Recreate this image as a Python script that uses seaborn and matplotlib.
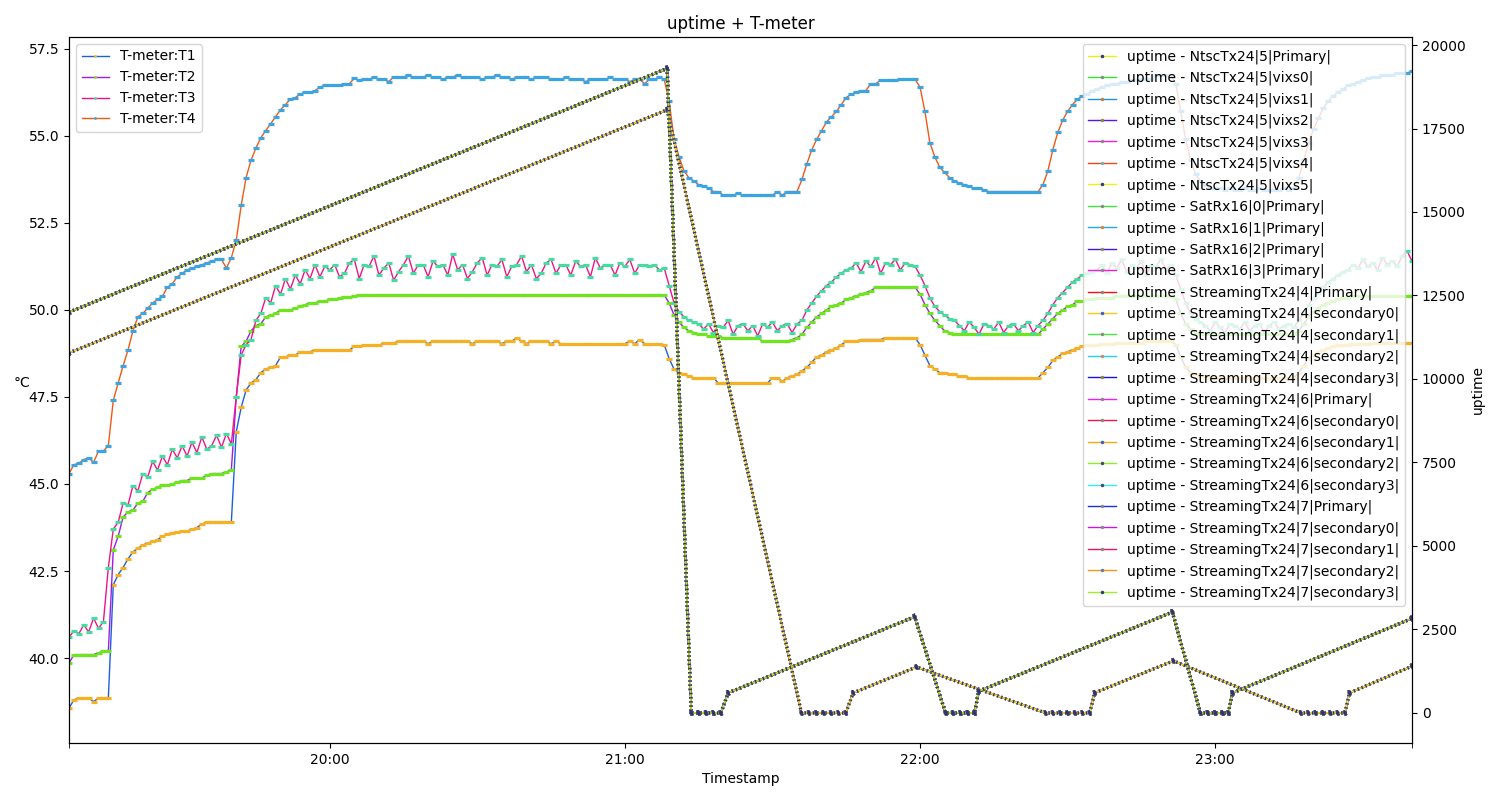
import numpy as np
import pandas as pd
import matplotlib
matplotlib.use("Agg")
import matplotlib.pyplot as plt
import matplotlib.dates as mdates
import matplotlib.patheffects as pe
import seaborn as sns

# ---------------- data ----------------
BASE = pd.Timestamp("2024-01-01 19:00")
FIRST_MINUTE = 7          # first temperature sample 19:07, one sample per minute
LAST_MINUTE = 280

# T-meter temperatures (deg C), one reading per minute from 19:07
T1 = [38.56, 38.80, 38.85, 38.85, 38.85, 38.75, 38.85, 38.85, 38.85, 42.10,
      42.40, 42.60, 42.85, 43.05, 43.15, 43.25, 43.30, 43.35, 43.40, 43.50,
      43.55, 43.60, 43.62, 43.65, 43.65, 43.70, 43.75, 43.85, 43.90, 43.90,
      43.90, 43.90, 43.90, 43.90, 46.50, 47.20, 47.70, 47.90, 48.00, 48.20,
      48.30, 48.35, 48.40, 48.65, 48.65, 48.70, 48.70, 48.80, 48.80, 48.80,
      48.85, 48.85, 48.85, 48.85, 48.85, 48.85, 48.85, 48.85, 48.95, 48.95,
      48.98, 48.98, 48.98, 48.98, 49.05, 49.05, 49.05, 49.10, 49.10, 49.10,
      49.10, 49.10, 49.10, 49.03, 49.10, 49.10, 49.10, 49.10, 49.10, 49.10,
      49.10, 49.10, 49.03, 49.10, 49.10, 49.10, 49.10, 49.10, 49.03, 49.10,
      49.10, 49.20, 49.10, 49.03, 49.10, 49.10, 49.10, 49.10, 49.03, 49.10,
      49.03, 49.03, 49.03, 49.03, 49.03, 49.03, 49.03, 49.03, 49.03, 49.03,
      49.03, 49.03, 49.03, 49.03, 49.10, 49.03, 49.15, 49.03, 49.03, 49.03,
      49.03, 49.00, 48.60, 48.30, 48.20, 48.15, 48.10, 48.05, 48.05, 48.05,
      48.05, 48.05, 47.90, 47.90, 47.90, 47.90, 47.90, 47.90, 47.90, 47.90,
      47.90, 47.90, 47.90, 48.05, 48.05, 47.95, 48.05, 48.10, 48.15, 48.25,
      48.35, 48.50, 48.65, 48.70, 48.80, 48.85, 48.90, 49.00, 49.10, 49.10,
      49.10, 49.15, 49.15, 49.15, 49.15, 49.15, 49.20, 49.20, 49.20, 49.20,
      49.20, 49.20, 49.20, 49.00, 48.70, 48.40, 48.30, 48.20, 48.20, 48.15,
      48.15, 48.10, 48.10, 48.05, 48.05, 48.05, 48.05, 48.05, 48.05, 48.05,
      48.05, 48.05, 48.05, 48.05, 48.05, 48.05, 48.05, 48.05, 48.20, 48.35,
      48.55, 48.65, 48.75, 48.80, 48.85, 48.90, 48.95, 49.00, 49.00, 49.00,
      49.03, 49.03, 49.03, 49.05, 49.05, 49.05, 49.05, 49.05, 49.05, 49.10,
      49.10, 49.10, 49.10, 49.10, 49.10, 49.00, 48.65, 48.35, 48.20, 48.15,
      48.10, 48.10, 48.05, 48.05, 48.05, 48.05, 48.05, 48.05, 48.05, 48.05,
      48.05, 48.05, 48.05, 48.05, 48.05, 48.05, 48.05, 48.05, 48.05, 48.05,
      48.20, 48.40, 48.60, 48.70, 48.80, 48.85, 48.90, 48.95, 49.00, 49.00,
      49.00, 49.03, 49.03, 49.03, 49.03, 49.05, 49.05, 49.05, 49.05, 49.05,
      49.05, 49.05, 49.05, 49.05]

T2 = [39.85, 40.10, 40.10, 40.10, 40.10, 40.10, 40.15, 40.20, 40.20, 43.10,
      43.50, 44.05, 44.20, 44.25, 44.45, 44.50, 44.75, 44.85, 44.90, 44.97,
      44.97, 45.00, 45.05, 45.10, 45.10, 45.17, 45.17, 45.17, 45.25, 45.30,
      45.30, 45.30, 45.35, 45.40, 47.50, 48.95, 49.10, 49.40, 49.55, 49.60,
      49.80, 49.85, 49.90, 50.00, 50.00, 50.00, 50.05, 50.10, 50.15, 50.20,
      50.20, 50.25, 50.25, 50.30, 50.30, 50.35, 50.37, 50.37, 50.40, 50.43,
      50.43, 50.43, 50.43, 50.43, 50.43, 50.43, 50.43, 50.43, 50.43, 50.43,
      50.43, 50.43, 50.43, 50.43, 50.43, 50.43, 50.43, 50.43, 50.43, 50.43,
      50.43, 50.43, 50.43, 50.43, 50.43, 50.43, 50.43, 50.43, 50.43, 50.43,
      50.43, 50.43, 50.43, 50.43, 50.43, 50.43, 50.43, 50.43, 50.43, 50.43,
      50.43, 50.43, 50.43, 50.43, 50.43, 50.43, 50.43, 50.43, 50.43, 50.43,
      50.43, 50.43, 50.43, 50.43, 50.43, 50.43, 50.43, 50.43, 50.43, 50.43,
      50.43, 50.43, 50.20, 49.85, 49.65, 49.50, 49.40, 49.35, 49.30, 49.30,
      49.25, 49.25, 49.25, 49.20, 49.20, 49.20, 49.20, 49.20, 49.20, 49.20,
      49.20, 49.10, 49.10, 49.10, 49.10, 49.10, 49.10, 49.15, 49.20, 49.30,
      49.50, 49.65, 49.80, 49.90, 50.00, 50.10, 50.15, 50.20, 50.30, 50.35,
      50.40, 50.45, 50.50, 50.55, 50.65, 50.65, 50.65, 50.65, 50.65, 50.65,
      50.65, 50.65, 50.65, 50.45, 50.15, 49.90, 49.70, 49.55, 49.40, 49.35,
      49.30, 49.30, 49.30, 49.30, 49.30, 49.30, 49.30, 49.30, 49.30, 49.30,
      49.30, 49.30, 49.30, 49.30, 49.30, 49.30, 49.30, 49.30, 49.45, 49.60,
      49.75, 49.90, 50.00, 50.10, 50.15, 50.25, 50.25, 50.30, 50.30, 50.35,
      50.35, 50.35, 50.35, 50.40, 50.40, 50.40, 50.40, 50.40, 50.40, 50.40,
      50.40, 50.40, 50.40, 50.40, 50.40, 50.30, 49.90, 49.60, 49.45, 49.35,
      49.30, 49.30, 49.30, 49.30, 49.30, 49.30, 49.30, 49.30, 49.30, 49.30,
      49.30, 49.30, 49.30, 49.30, 49.30, 49.30, 49.30, 49.30, 49.30, 49.30,
      49.40, 49.60, 49.80, 49.95, 50.05, 50.15, 50.20, 50.25, 50.30, 50.35,
      50.35, 50.40, 50.40, 50.40, 50.40, 50.40, 50.40, 50.40, 50.40, 50.40,
      50.40, 50.40, 50.40, 50.40]

T3 = [40.60, 40.78, 40.70, 40.95, 40.75, 41.15, 40.85, 41.05, 42.60, 43.70,
      43.90, 44.45, 44.40, 44.95, 44.80, 45.30, 45.20, 45.65, 45.40, 45.80,
      45.55, 46.00, 45.75, 46.10, 45.80, 46.20, 45.90, 46.35, 46.00, 46.10,
      46.40, 46.05, 46.45, 46.15, 47.50, 48.70, 49.00, 49.15, 49.70, 49.90,
      50.35, 50.20, 50.70, 50.45, 50.90, 50.60, 51.00, 50.75, 51.15, 50.90,
      51.30, 50.95, 51.25, 51.15, 51.30, 50.95, 51.05, 51.35, 51.45, 50.90,
      51.30, 51.25, 51.55, 51.00, 51.20, 51.35, 50.85, 51.10, 51.30, 51.55,
      51.05, 51.30, 51.30, 50.95, 51.40, 51.25, 51.30, 51.00, 51.60, 51.15,
      51.30, 50.90, 51.10, 51.35, 51.50, 51.00, 51.30, 51.25, 51.45, 50.95,
      51.25, 51.30, 51.55, 51.10, 51.30, 50.90, 51.05, 51.35, 51.45, 51.05,
      51.30, 51.30, 51.00, 51.40, 51.25, 51.30, 50.95, 51.50, 51.20, 51.30,
      51.30, 51.00, 51.35, 51.25, 51.45, 51.05, 51.30, 51.30, 51.25, 51.30,
      51.15, 51.20, 50.70, 50.20, 49.95, 49.80, 49.70, 49.65, 49.60, 49.45,
      49.60, 49.35, 49.55, 49.50, 49.70, 49.30, 49.55, 49.60, 49.40, 49.55,
      49.25, 49.60, 49.50, 49.65, 49.40, 49.55, 49.60, 49.35, 49.60, 49.70,
      50.00, 50.20, 50.40, 50.55, 50.70, 50.80, 50.95, 51.05, 51.15, 51.20,
      51.35, 51.10, 51.40, 51.25, 51.50, 51.05, 51.35, 51.30, 51.45, 51.15,
      51.35, 51.30, 51.25, 51.00, 50.70, 50.35, 50.10, 49.95, 49.85, 49.75,
      49.70, 49.55, 49.40, 49.65, 49.50, 49.30, 49.60, 49.55, 49.45, 49.65,
      49.35, 49.55, 49.60, 49.40, 49.55, 49.65, 49.35, 49.55, 49.70, 49.90,
      50.15, 50.35, 50.50, 50.65, 50.80, 50.90, 51.00, 51.05, 51.10, 51.15,
      51.30, 51.05, 51.35, 51.20, 51.45, 51.10, 51.30, 51.20, 51.40, 51.00,
      51.30, 51.25, 51.45, 51.15, 51.30, 51.00, 50.60, 50.20, 49.90, 49.75,
      49.65, 49.55, 49.40, 49.65, 49.50, 49.35, 49.60, 49.55, 49.45, 49.65,
      49.40, 49.55, 49.60, 49.35, 49.55, 49.65, 49.45, 49.55, 49.60, 49.50,
      49.70, 49.90, 50.15, 50.35, 50.50, 50.65, 50.80, 50.90, 51.00, 51.10,
      51.15, 51.30, 51.20, 51.45, 51.25, 51.35, 51.15, 51.50, 51.30, 51.40,
      51.25, 51.55, 51.70, 51.40]

T4 = [45.30, 45.55, 45.60, 45.70, 45.75, 45.62, 45.95, 45.95, 46.10, 47.40,
      47.90, 48.40, 48.85, 49.40, 49.80, 49.90, 50.05, 50.20, 50.30, 50.40,
      50.65, 50.75, 50.95, 51.05, 51.15, 51.20, 51.25, 51.30, 51.35, 51.40,
      51.45, 51.45, 51.20, 51.50, 52.00, 53.00, 53.80, 54.30, 54.65, 54.95,
      55.15, 55.35, 55.55, 55.75, 55.90, 56.05, 56.10, 56.20, 56.25, 56.25,
      56.30, 56.40, 56.45, 56.45, 56.45, 56.45, 56.50, 56.50, 56.65, 56.60,
      56.62, 56.62, 56.69, 56.62, 56.62, 56.56, 56.69, 56.69, 56.69, 56.75,
      56.69, 56.69, 56.69, 56.75, 56.69, 56.69, 56.62, 56.69, 56.69, 56.75,
      56.69, 56.69, 56.69, 56.69, 56.62, 56.69, 56.69, 56.75, 56.69, 56.69,
      56.62, 56.69, 56.69, 56.69, 56.62, 56.69, 56.69, 56.69, 56.62, 56.62,
      56.62, 56.69, 56.62, 56.62, 56.62, 56.56, 56.62, 56.62, 56.62, 56.62,
      56.69, 56.62, 56.62, 56.62, 56.56, 56.62, 56.62, 56.50, 56.62, 56.62,
      56.69, 56.62, 56.00, 54.90, 54.40, 54.00, 53.80, 53.70, 53.60, 53.55,
      53.50, 53.40, 53.40, 53.30, 53.30, 53.30, 53.35, 53.30, 53.30, 53.30,
      53.30, 53.30, 53.30, 53.30, 53.40, 53.30, 53.40, 53.40, 53.40, 53.75,
      54.20, 54.60, 54.90, 55.15, 55.40, 55.55, 55.70, 55.90, 56.10, 56.20,
      56.25, 56.30, 56.30, 56.50, 56.50, 56.60, 56.60, 56.60, 56.60, 56.62,
      56.62, 56.62, 56.62, 56.40, 55.70, 54.80, 54.40, 54.10, 53.95, 53.80,
      53.70, 53.65, 53.60, 53.55, 53.50, 53.50, 53.45, 53.40, 53.40, 53.40,
      53.40, 53.40, 53.40, 53.40, 53.40, 53.40, 53.40, 53.40, 53.60, 54.00,
      54.60, 55.10, 55.45, 55.70, 55.90, 56.05, 56.15, 56.20, 56.30, 56.35,
      56.40, 56.45, 56.50, 56.50, 56.55, 56.55, 56.60, 56.60, 56.62, 56.62,
      56.62, 56.75, 56.75, 56.75, 56.75, 56.50, 55.70, 54.90, 54.30, 53.90,
      53.70, 53.60, 53.50, 53.50, 53.50, 53.45, 53.50, 53.45, 53.45, 53.50,
      53.45, 53.45, 53.50, 53.45, 53.45, 53.45, 53.45, 53.50, 53.45, 53.50,
      53.80, 54.30, 54.80, 55.20, 55.50, 55.80, 56.00, 56.15, 56.25, 56.35,
      56.45, 56.50, 56.55, 56.60, 56.65, 56.69, 56.69, 56.75, 56.75, 56.75,
      56.81, 56.81, 56.81, 56.85]

temp_names = ["T-meter:T1", "T-meter:T2", "T-meter:T3", "T-meter:T4"]
temp_series = [T1, T2, T3, T4]
temp_line_colors = ["#1f5fdc", "#9d1ee6", "#f0148c", "#f05a14"]
temp_marker_colors = ["#f5b023", "#6ee61e", "#46dca0", "#3ca5e1"]

# uptime (seconds) samples, minutes after 19:00
# group "ntsc": NtscTx24 units, group "other": SatRx16 and StreamingTx24 units
uptime_other_min = [7, 128.6, 133.5, 135.0, 136.5, 138.0, 139.5, 141.0, 178.9,
                    185.2, 186.7, 188.2, 189.7, 191.1, 191.9, 231.3,
                    237.0, 238.5, 240.0, 241.5, 242.7, 243.5, 280.0]
uptime_other_val = [12000, 19300, 0, 0, 0, 0, 0, 600, 2880,
                    0, 0, 0, 0, 0, 650, 3020,
                    0, 0, 0, 0, 0, 600, 2830]
uptime_ntsc_min = [7, 128.6, 155.9, 157.4, 158.9, 160.4, 161.9, 163.4, 164.9, 166.4, 179.3,
                   205.5, 207.0, 208.5, 210.0, 211.5, 213.0, 214.5, 215.5, 231.5,
                   257.4, 258.9, 260.4, 261.9, 263.4, 264.9, 266.4, 267.3, 280.0]
uptime_ntsc_val = [10780, 18060, 0, 0, 0, 0, 0, 0, 0, 600, 1375,
                   0, 0, 0, 0, 0, 0, 0, 600, 1560,
                   0, 0, 0, 0, 0, 0, 0, 600, 1400]

uptime_names = [
    "uptime - NtscTx24|5|Primary|", "uptime - NtscTx24|5|vixs0|",
    "uptime - NtscTx24|5|vixs1|", "uptime - NtscTx24|5|vixs2|",
    "uptime - NtscTx24|5|vixs3|", "uptime - NtscTx24|5|vixs4|",
    "uptime - NtscTx24|5|vixs5|", "uptime - SatRx16|0|Primary|",
    "uptime - SatRx16|1|Primary|", "uptime - SatRx16|2|Primary|",
    "uptime - SatRx16|3|Primary|", "uptime - StreamingTx24|4|Primary|",
    "uptime - StreamingTx24|4|secondary0|", "uptime - StreamingTx24|4|secondary1|",
    "uptime - StreamingTx24|4|secondary2|", "uptime - StreamingTx24|4|secondary3|",
    "uptime - StreamingTx24|6|Primary|", "uptime - StreamingTx24|6|secondary0|",
    "uptime - StreamingTx24|6|secondary1|", "uptime - StreamingTx24|6|secondary2|",
    "uptime - StreamingTx24|6|secondary3|", "uptime - StreamingTx24|7|Primary|",
    "uptime - StreamingTx24|7|secondary0|", "uptime - StreamingTx24|7|secondary1|",
    "uptime - StreamingTx24|7|secondary2|", "uptime - StreamingTx24|7|secondary3|",
]
uptime_line_colors = [
    "#e6f01c", "#2ee62e", "#1e90e6", "#5a14e6", "#f01ed2", "#f0461e", "#f0f01e",
    "#3ce63c", "#1eaaf0", "#4614dc", "#f01edc", "#f01414",
    "#f5c81e", "#46e646", "#1ed2f0", "#1414dc",
    "#f01ef0", "#f01450", "#f5aa14", "#8cf01e", "#32f0f0",
    "#1432e6", "#c814f0", "#f0145a", "#f59614", "#a0f01e",
]
uptime_marker_colors = [
    "#33336e", "#888888", "#c08040", "#8a8a3a", "#888888", "#7fa8c8", "#33336e",
    "#888888", "#d08a40", "#8a8a5a", "#888888", "#888888",
    "#3060c0", "#888888", "#c09060", "#8a8a3a",
    "#888888", "#888888", "#3060c0", "#444466", "#444466",
    "#888888", "#888888", "#888888", "#6080a0", "#33336e",
]
uptime_group = ["ntsc"] * 7 + ["other"] * 19

# ---------------- plot ----------------
def to_num(minutes):
    return mdates.date2num(BASE + pd.to_timedelta(np.asarray(minutes, dtype=float), unit="m"))

fig = plt.figure(figsize=(15, 8), dpi=100)
ax = fig.add_axes([0.046, 0.07125, 0.8953, 0.8825])
ax2 = ax.twinx()

for name, vals, lc, mc in zip(temp_names, temp_series, temp_line_colors, temp_marker_colors):
    x = to_num(np.arange(FIRST_MINUTE, FIRST_MINUTE + len(vals)))
    sns.lineplot(x=x, y=np.asarray(vals), ax=ax, color=lc, linewidth=1.0,
                 marker="_", markersize=4.2, markerfacecolor=mc, markeredgecolor=mc,
                 markeredgewidth=2.3, label=name, estimator=None, errorbar=None,
                 sort=False)

groups = {"ntsc": (uptime_ntsc_min, uptime_ntsc_val),
          "other": (uptime_other_min, uptime_other_val)}
for name, lc, mc, g in zip(uptime_names, uptime_line_colors, uptime_marker_colors, uptime_group):
    mins, vals = groups[g]
    sns.lineplot(x=to_num(mins), y=np.asarray(vals, dtype=float), ax=ax2, color=lc,
                 linewidth=1.0, marker=".", markersize=4, markerfacecolor=mc,
                 markeredgecolor=mc, markeredgewidth=0.5, label=name,
                 estimator=None, errorbar=None, sort=False)
    # sample-dot texture along the line (marker colour)
    ax2.lines[-1].set_path_effects([
        pe.Normal(),
        pe.Stroke(linewidth=2.2, foreground=mc, capstyle="butt",
                  dashes={"dash_offset": 0, "dash_list": [1.0, 2.0]}),
    ])

x0, x1 = to_num([FIRST_MINUTE, LAST_MINUTE])
ax.set_xlim(x0, x1)
ax.xaxis.set_major_locator(mdates.HourLocator())
ax.xaxis.set_major_formatter(mdates.DateFormatter("%H:%M"))
ax.set_xticks([x0, x1], minor=True)
ax.tick_params(axis="x", which="minor", length=3.5)

ax.set_ylim(37.56, 57.84)
ax.set_yticks(np.arange(40.0, 57.6, 2.5))
ax.yaxis.set_major_formatter(matplotlib.ticker.FormatStrFormatter("%.1f"))
ax2.set_ylim(-900, 20240)
ax2.set_yticks(np.arange(0, 20001, 2500))

ax.set_xlabel("Timestamp")
ax.set_ylabel("°C", rotation=0)
ax.yaxis.set_label_coords(-0.035, 0.5)
ax2.set_ylabel("uptime")
ax.set_title("uptime + T-meter")

leg1 = ax.legend(loc="upper left")
for h in leg1.legend_handles:
    h.set_marker(".")
    h.set_markersize(3)
    h.set_markeredgewidth(0.5)
leg2 = ax2.legend(loc="upper right")
for h in leg2.legend_handles:
    h.set_path_effects([])

fig.savefig("out.png", dpi=100)
